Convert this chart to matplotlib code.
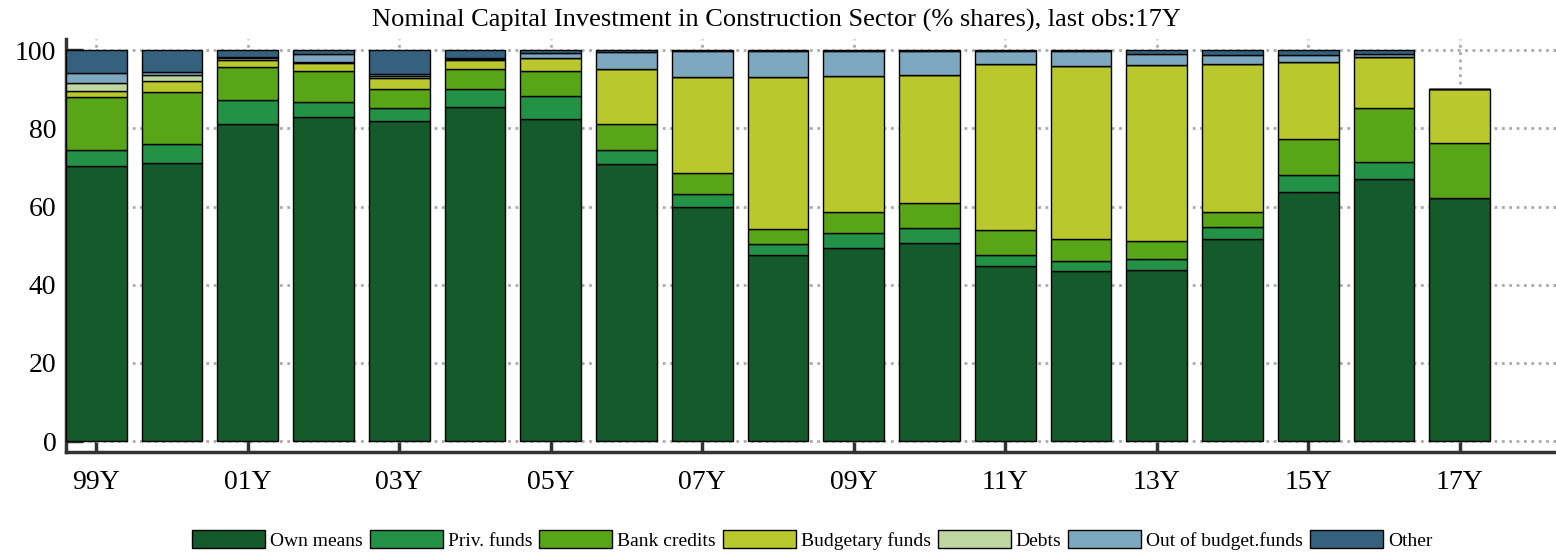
import numpy as np
import matplotlib
matplotlib.use("Agg")
import matplotlib.pyplot as plt

plt.rcParams['font.family'] = ['Liberation Serif', 'DejaVu Serif']

# Data (% shares)
years = ['99Y', '00Y', '01Y', '02Y', '03Y', '04Y', '05Y', '06Y', '07Y', '08Y',
         '09Y', '10Y', '11Y', '12Y', '13Y', '14Y', '15Y', '16Y', '17Y']
own_means = [70.3, 71.1, 81.2, 82.9, 81.9, 85.5, 82.5, 70.8, 59.8, 47.5,
             49.3, 50.8, 44.9, 43.6, 43.7, 51.7, 63.7, 67.0, 62.2]
priv_funds = [4.3, 4.8, 6.1, 3.8, 3.3, 4.5, 5.7, 3.8, 3.4, 2.9,
              4.0, 3.8, 2.7, 2.6, 2.8, 3.2, 4.4, 4.4, 0.0]
bank_credits = [13.5, 13.4, 8.3, 8.0, 5.0, 5.3, 6.4, 6.6, 5.3, 4.0,
                5.3, 6.4, 6.4, 5.4, 4.7, 3.7, 9.2, 13.8, 14.2]
budgetary = [1.6, 2.8, 2.0, 2.0, 2.7, 2.3, 3.4, 14.1, 24.7, 38.8,
             34.9, 32.8, 42.5, 44.3, 45.1, 38.0, 19.6, 13.1, 13.6]
debts = [1.8, 1.5, 0.3, 0.3, 0.5, 0.1, 0.0, 0.0, 0.0, 0.0,
         0.0, 0.0, 0.0, 0.0, 0.0, 0.0, 0.0, 0.0, 0.0]
out_of_budget = [2.6, 0.8, 0.3, 2.0, 0.5, 0.3, 1.2, 4.3, 6.5, 6.5,
                 6.3, 5.9, 3.2, 3.8, 2.8, 2.3, 1.8, 0.8, 0.0]
other = [5.9, 5.6, 1.8, 1.0, 6.1, 2.0, 0.8, 0.4, 0.3, 0.3,
         0.2, 0.3, 0.3, 0.3, 0.9, 1.1, 1.3, 0.9, 0.0]

series = [
    ('Own means', own_means, '#155a2b'),
    ('Priv. funds', priv_funds, '#239146'),
    ('Bank credits', bank_credits, '#58a518'),
    ('Budgetary funds', budgetary, '#b9c82d'),
    ('Debts', debts, '#bed7a0'),
    ('Out of budget.funds', out_of_budget, '#7ea8bf'),
    ('Other', other, '#34617e'),
]

fig = plt.figure(figsize=(15.56, 5.54), dpi=100)
ax = fig.add_axes([0.0424, 0.184, 0.9576, 0.745])

x = np.arange(len(years))
bottom = np.zeros(len(years))
for name, vals, col in series:
    ax.bar(x, vals, width=0.8, bottom=bottom, color=col, edgecolor='black',
           linewidth=1.0, label=name, zorder=3)
    bottom += np.array(vals)

ax.set_xlim(-0.4, 19.27)
ax.set_ylim(-2.8, 102.8)
ax.set_yticks([0, 20, 40, 60, 80, 100])
ax.set_xticks(x[::2])
ax.set_xticklabels(years[::2])

ax.grid(True, linestyle=':', color='#aaaaaa', linewidth=2.0, zorder=0)
for s in ['top', 'right']:
    ax.spines[s].set_visible(False)
for s in ['left', 'bottom']:
    ax.spines[s].set_color('#333333')
    ax.spines[s].set_linewidth(2.5)
ax.tick_params(axis='both', direction='in', length=12, width=2.5,
               color='#333333', labelsize=20)
ax.tick_params(axis='x', pad=13)
ax.tick_params(axis='y', pad=7)

fig.text(0.499, 0.963, 'Nominal Capital Investment in Construction Sector (% shares), last obs:17Y',
         ha='center', va='center', fontsize=19)

fig.legend(loc='lower center', bbox_to_anchor=(0.522, -0.024), ncol=7, frameon=False,
           fontsize=14, handlelength=3.75, handleheight=1.0, columnspacing=0.36,
           handletextpad=0.26)

fig.savefig('out.png', dpi=100)
